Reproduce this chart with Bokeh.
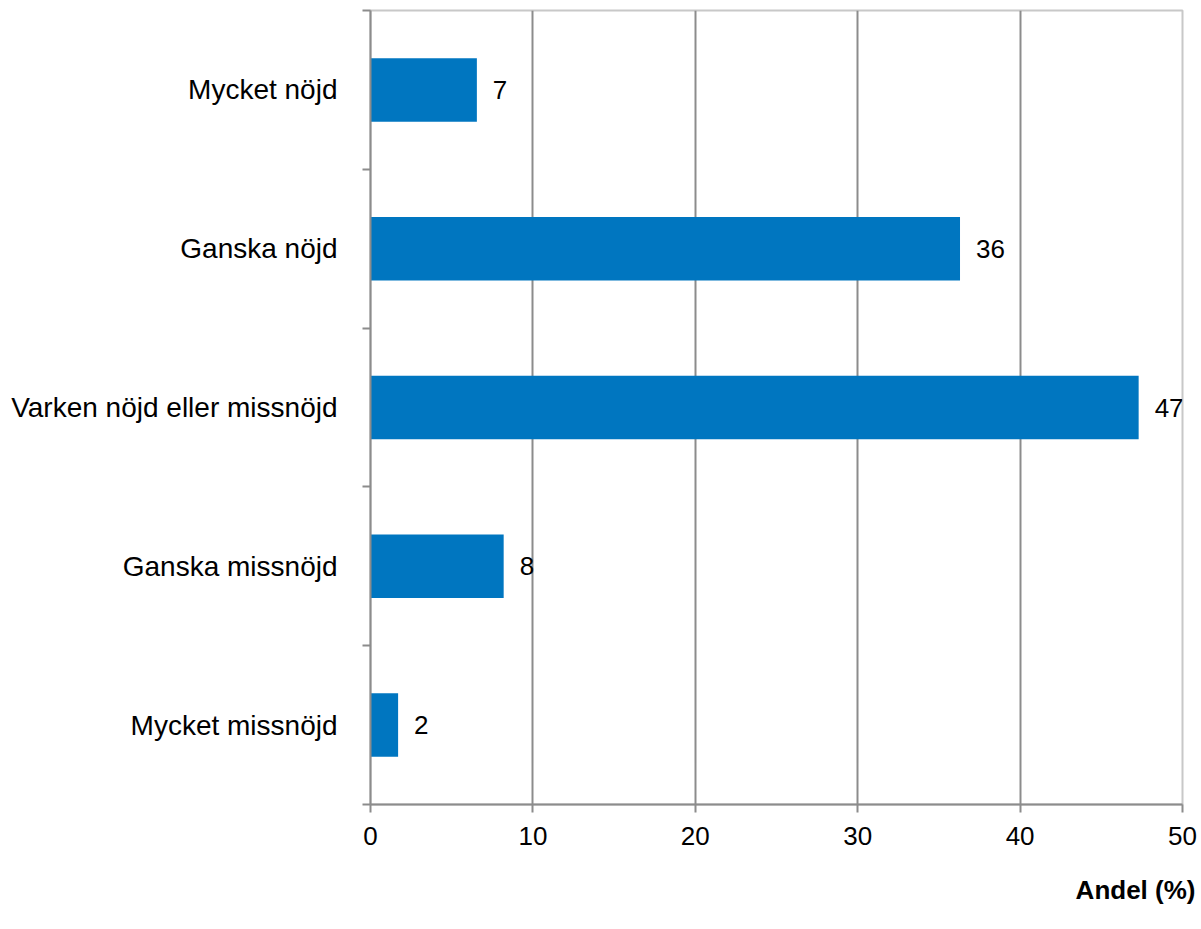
from bokeh.plotting import figure
from bokeh.models import FactorRange, LinearAxis, FixedTicker, ColumnDataSource, Title
from bokeh.core.properties import value
from bokeh.embed import file_html
from bokeh.resources import INLINE

# Data (bottom to top)
categories = ["Mycket missnöjd", "Ganska missnöjd", "Varken nöjd eller missnöjd",
              "Ganska nöjd", "Mycket nöjd"]
values = [1.7, 8.2, 47.3, 36.3, 6.55]
labels = ["2", "8", "47", "36", "7"]
x_ticks = [0, 10, 20, 30, 40, 50]
x_title = "Andel (%)"

FONT = "Liberation Sans"
GRID = "#8c8c8c"
BAR = "#0076C0"

src = ColumnDataSource(dict(cat=categories, val=values, lab=labels))

p = figure(width=1201, height=929, output_backend="svg", toolbar_location=None,
           y_range=FactorRange(*categories, range_padding=0),
           x_range=(0, 50), y_axis_location=None, x_axis_location=None,
           min_border_left=370, min_border_right=19, min_border_top=10,
           min_border_bottom=124)
p.outline_line_color = "#c8c8c8"
p.outline_line_width = 2

p.hbar(y="cat", right="val", left=0, height=0.4, source=src,
       fill_color=BAR, line_color=None)
p.text(x="val", y="cat", text="lab", source=src, x_offset=16,
       text_align="left", text_baseline="middle",
       text_font=value(FONT), text_font_size="26px", text_color="black")

# y axis: category labels at centres, tick marks at boundaries
n = len(categories)
centres = [i + 0.5 for i in range(n)]
yax = LinearAxis(ticker=FixedTicker(ticks=centres, minor_ticks=list(range(n + 1))),
                 major_label_overrides={c: cat for c, cat in zip(centres, categories)})
yax.major_tick_out = 0
yax.major_tick_in = 0
yax.minor_tick_out = 8
yax.minor_tick_in = 0
yax.minor_tick_line_color = GRID
yax.minor_tick_line_width = 2
yax.axis_line_color = GRID
yax.axis_line_width = 2
yax.major_label_standoff = 25
yax.major_label_text_font = FONT
yax.major_label_text_font_size = "28px"
yax.major_label_text_color = "black"
p.add_layout(yax, "left")

xax = LinearAxis(ticker=FixedTicker(ticks=x_ticks))
xax.major_tick_out = 8
xax.major_tick_in = 0
xax.major_tick_line_color = GRID
xax.major_tick_line_width = 2
xax.minor_tick_line_color = None
xax.axis_line_color = GRID
xax.axis_line_width = 2
xax.major_label_standoff = 14
xax.major_label_text_font = FONT
xax.major_label_text_font_size = "26px"
xax.major_label_text_color = "black"
p.add_layout(xax, "below")

p.add_layout(Title(text=x_title, align="right", offset=-13, standoff=50,
                   text_font=FONT, text_font_size="26px",
                   text_font_style="bold", text_color="black"), "below")

p.xgrid.ticker = FixedTicker(ticks=x_ticks)
p.xgrid.grid_line_color = GRID
p.xgrid.grid_line_width = 2
p.ygrid.grid_line_color = None

open("out.html", "w").write(file_html(p, INLINE))
